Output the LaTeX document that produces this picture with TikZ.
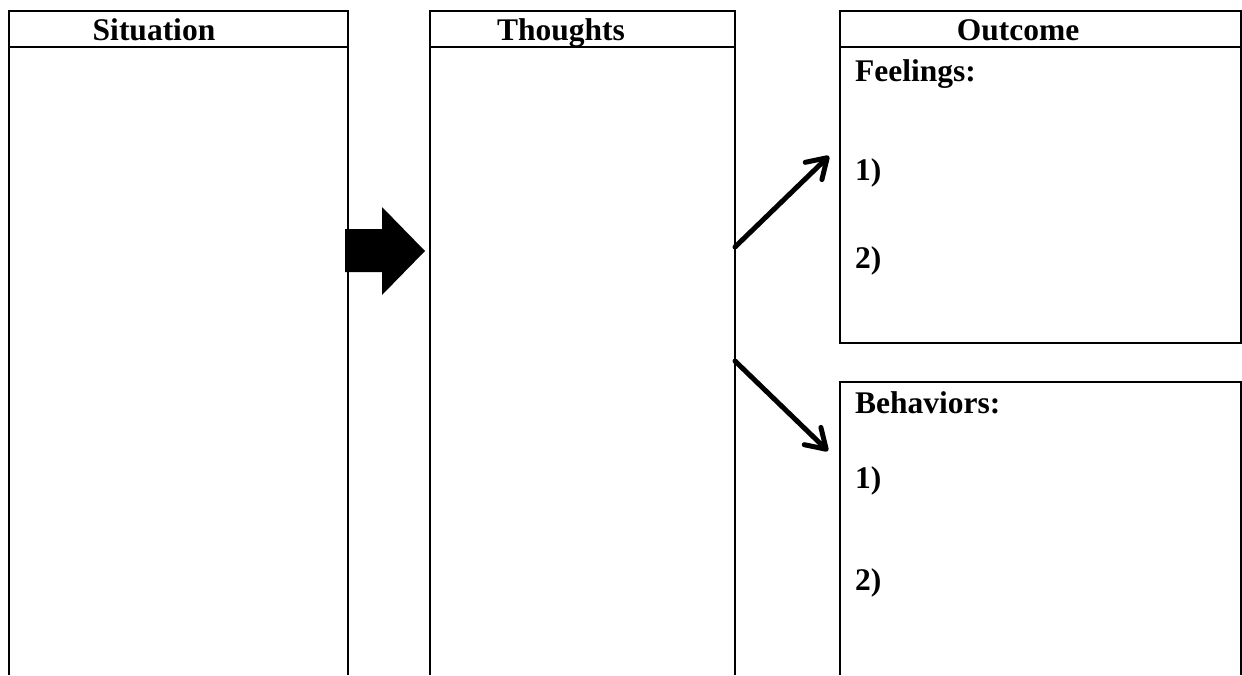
\documentclass[tikz,border=0pt]{standalone}
\usepackage{fontspec}
\setmainfont{Liberation Serif}
\usetikzlibrary{arrows.meta}
\begin{document}
\begin{tikzpicture}[x=1pt,y=-1pt,
  box/.style={line width=2.6pt},
  lbl/.style={font=\fontsize{31.5}{36}\selectfont\bfseries, anchor=base, inner sep=0pt},
  lbll/.style={lbl, anchor=base west},
  conn/.style={line width=5pt, line cap=round, -{Straight Barb[length=19pt,width=24pt,round]}},
  blockarrow/.style={fill=black}]
\useasboundingbox (0,0) rectangle (1242,675);
% Situation column
\draw[box] (9,675) |- (348,11) -- (348,675);
\draw[box] (9,47) -- (348,47);
% Thoughts column
\draw[box] (430,675) |- (735,11) -- (735,675);
\draw[box] (430,47) -- (735,47);
% Outcome / Feelings box
\draw[box] (840,11) rectangle (1241,343);
\draw[box] (840,47) -- (1241,47);
% Behaviors box
\draw[box] (840,675) |- (1241,382) -- (1241,675);
% block arrow
\fill[blockarrow] (345,229) -- (382,229) -- (382,207) -- (425,251) -- (382,295) -- (382,272) -- (345,272) -- cycle;
% labels
\node[lbl] (sit) at (154,40) {Situation};
\node[lbl] (tho) at (561,40) {Thoughts};
\node[lbl] (out) at (1018,40.5) {Outcome};
\node[lbll] (feel) at (855,81) {Feelings:};
\node[lbll] (f1) at (855,180) {1)};
\node[lbll] (f2) at (855,268) {2)};
\node[lbll] (beh) at (855,413) {Behaviors:};
\node[lbll] (b1) at (855,488) {1)};
\node[lbll] (b2) at (855,590) {2)};
% connectors
\coordinate (tA) at (735,247);
\coordinate (fA) at (829,156);
\coordinate (tB) at (735,361);
\coordinate (bA) at (828,451);
\draw[conn] (tA) -- (fA);
\draw[conn] (tB) -- (bA);
\end{tikzpicture}
\end{document}
